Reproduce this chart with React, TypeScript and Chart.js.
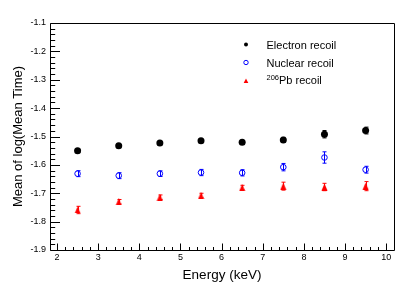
import React, { useEffect, useRef } from "react";
import { Chart, registerables } from "chart.js";
Chart.register(...registerables);

const energies = [2.5, 3.5, 4.5, 5.5, 6.5, 7.5, 8.5, 9.5];
const electronMean = [-1.550, -1.533, -1.523, -1.515, -1.520, -1.512, -1.492, -1.479];
const electronErr = [0.005, 0.004, 0.004, 0.004, 0.005, 0.009, 0.013, 0.012];
const nuclearMean = [-1.631, -1.638, -1.631, -1.627, -1.628, -1.608, -1.574, -1.617];
const nuclearErr = [0.0105, 0.0105, 0.010, 0.011, 0.011, 0.013, 0.020, 0.012];
const pbMean = [-1.759, -1.730, -1.714, -1.708, -1.680, -1.675, -1.678, -1.675];
const pbErr = [0.013, 0.008, 0.008, 0.008, 0.008, 0.014, 0.013, 0.016];

const legendSup = ["", "", "206"];
const legendText = ["Electron recoil", "Nuclear recoil", "Pb recoil"];
const xTitle = "Energy (keV)";
const yTitle = "Mean of log(Mean Time)";

const FONT = "'Liberation Sans', Arial, Helvetica, sans-serif";

function makeTriangle(w: number, h: number, color: string) {
  const c = document.createElement("canvas");
  c.width = w;
  c.height = h;
  const ctx = c.getContext("2d")!;
  ctx.fillStyle = color;
  ctx.beginPath();
  ctx.moveTo(w / 2, 0);
  ctx.lineTo(w - 0.5, h);
  ctx.lineTo(0.5, h);
  ctx.closePath();
  ctx.fill();
  return c;
}

export default function App() {
  const ref = useRef<HTMLCanvasElement | null>(null);
  useEffect(() => {
    document.body.style.margin = "0";
    const canvas = ref.current!;
    const tri = makeTriangle(7, 7, "#ff0000");
    const errs = [electronErr, nuclearErr, pbErr];

    const errorBars = {
      id: "errorBars",
      afterDatasetsDraw(chart: any) {
        const ctx = chart.ctx;
        const ys = chart.scales.y;
        chart.data.datasets.forEach((ds: any, i: number) => {
          const meta = chart.getDatasetMeta(i);
          ctx.save();
          ctx.strokeStyle = ds.borderColor;
          ctx.lineWidth = 1;
          meta.data.forEach((pt: any, j: number) => {
            const v = ds.data[j].y;
            const e = errs[i][j];
            const y1 = ys.getPixelForValue(v + e);
            const y2 = ys.getPixelForValue(v - e);
            const x = Math.round(pt.x) + 0.5;
            ctx.beginPath();
            ctx.moveTo(x, y1);
            ctx.lineTo(x, y2);
            ctx.moveTo(x - 2, y1);
            ctx.lineTo(x + 2, y1);
            ctx.moveTo(x - 2, y2);
            ctx.lineTo(x + 2, y2);
            ctx.stroke();
          });
          ctx.restore();
        });
      },
    };

    const frame = {
      id: "frame",
      afterDraw(chart: any) {
        const ctx = chart.ctx;
        const a = chart.chartArea;
        const xs = chart.scales.x;
        const ys = chart.scales.y;
        ctx.save();
        ctx.strokeStyle = "#000";
        ctx.lineWidth = 1;
        const L = Math.round(a.left) + 0.5;
        const R = Math.round(a.right) + 0.5;
        const T = Math.round(a.top) + 0.5;
        const B = Math.round(a.bottom) + 0.5;
        ctx.beginPath();
        ctx.rect(L, T, R - L, B - T);
        ctx.stroke();
        ctx.beginPath();
        const xs0 = Math.ceil(xs.min / 0.2 - 1e-6);
        const xs1 = Math.floor(xs.max / 0.2 + 1e-6);
        for (let k = xs0; k <= xs1; k++) {
          const v = k * 0.2;
          const major = k % 5 === 0;
          const px = Math.round(xs.getPixelForValue(v)) + 0.5;
          ctx.moveTo(px, B);
          ctx.lineTo(px, B - (major ? 7 : 3.5));
        }
        const ys0 = Math.ceil(ys.min / 0.02 - 1e-6);
        const ys1 = Math.floor(ys.max / 0.02 + 1e-6);
        for (let k = ys0; k <= ys1; k++) {
          const v = k * 0.02;
          const major = Math.abs(k) % 5 === 0;
          const py = Math.round(ys.getPixelForValue(v)) + 0.5;
          ctx.moveTo(L, py);
          ctx.lineTo(L + (major ? 9.5 : 4.7), py);
        }
        ctx.stroke();

        // legend
        const mx = 246;
        const rows = [44.5, 62.5, 81];
        const bases = [48.5, 66.8, 83.5];
        const tx = 266.5;
        ctx.fillStyle = "#000";
        ctx.beginPath();
        ctx.arc(mx, rows[0], 2, 0, Math.PI * 2);
        ctx.fill();
        ctx.strokeStyle = "#0000ff";
        ctx.beginPath();
        ctx.arc(mx, rows[1], 2.2, 0, Math.PI * 2);
        ctx.stroke();
        ctx.fillStyle = "#ff0000";
        ctx.beginPath();
        ctx.moveTo(mx, rows[2] - 2.5);
        ctx.lineTo(mx + 2.3, rows[2] + 2);
        ctx.lineTo(mx - 2.3, rows[2] + 2);
        ctx.closePath();
        ctx.fill();
        ctx.fillStyle = "#000";
        ctx.textBaseline = "alphabetic";
        ctx.textAlign = "left";
        for (let i = 0; i < legendText.length; i++) {
          let x = tx;
          if (legendSup[i]) {
            ctx.font = `7.5px ${FONT}`;
            ctx.fillText(legendSup[i], x, bases[i] - 4);
            x += ctx.measureText(legendSup[i]).width;
          }
          ctx.font = `11px ${FONT}`;
          ctx.fillText(legendText[i], x, bases[i]);
        }
        ctx.restore();
      },
    };

    const chart = new Chart(canvas, {
      type: "scatter",
      data: {
        datasets: [
          {
            label: legendText[0],
            data: energies.map((x, i) => ({ x, y: electronMean[i] })),
            pointStyle: "circle",
            pointRadius: 3.5,
            pointBorderWidth: 0,
            backgroundColor: "#000",
            borderColor: "#000",
          },
          {
            label: legendText[1],
            data: energies.map((x, i) => ({ x, y: nuclearMean[i] })),
            pointStyle: "circle",
            pointRadius: 2.8,
            pointBorderWidth: 1,
            backgroundColor: "rgba(0,0,0,0)",
            borderColor: "#0000ff",
          },
          {
            label: "206" + legendText[2],
            data: energies.map((x, i) => ({ x, y: pbMean[i] })),
            pointStyle: tri as any,
            pointRadius: 3.5,
            backgroundColor: "#ff0000",
            borderColor: "#ff0000",
          },
        ],
      },
      options: {
        responsive: false,
        animation: false,
        devicePixelRatio: 1,
        layout: { padding: { top: 23, right: 21, left: 0, bottom: 0 } },
        plugins: { legend: { display: false }, tooltip: { enabled: false } },
        scales: {
          x: {
            type: "linear",
            min: 1.83,
            max: 10.19,
            grid: { display: false, drawTicks: false },
            border: { display: false },
            ticks: {
              stepSize: 1,
              includeBounds: false,
              autoSkip: false,
              maxRotation: 0,
              padding: 2,
              color: "#000",
              font: { family: FONT, size: 9 },
              callback: (v: any) => String(Math.round(Number(v))),
            },
            title: {
              display: true,
              text: xTitle,
              color: "#000",
              font: { family: FONT, size: 13.5 },
              padding: { top: 0, bottom: 12 },
            },
            afterFit: (s: any) => {
              s.height = 45;
            },
          },
          y: {
            type: "linear",
            min: -1.9,
            max: -1.1,
            grid: { display: false, drawTicks: false },
            border: { display: false },
            ticks: {
              stepSize: 0.1,
              autoSkip: false,
              padding: 4,
              color: "#000",
              font: { family: FONT, size: 9 },
              callback: (v: any) => Number(v).toFixed(1),
            },
            title: {
              display: true,
              text: yTitle,
              color: "#000",
              font: { family: FONT, size: 13 },
              padding: { top: 11, bottom: 0 },
            },
            afterFit: (s: any) => {
              s.width = 50;
            },
          },
        },
      },
      plugins: [errorBars, frame],
    });
    return () => chart.destroy();
  }, []);
  return (
    <div style={{ width: 415, height: 295 }}>
      <canvas ref={ref} width={415} height={295} style={{ display: "block", width: 415, height: 295 }} />
    </div>
  );
}
